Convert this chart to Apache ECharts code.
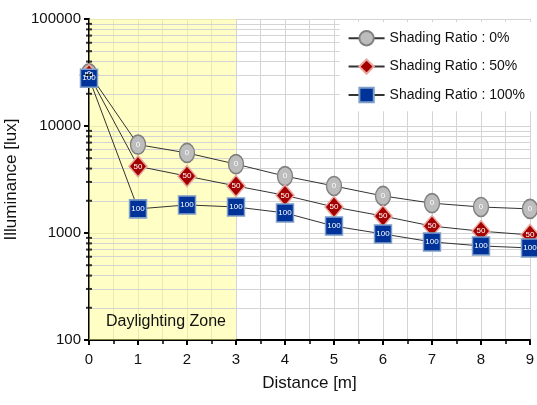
<!DOCTYPE html>
<html>
<head>
<meta charset="utf-8">
<script src="https://cdn.jsdelivr.net/npm/echarts@6/dist/echarts.min.js"></script>
<style>
  html, body { margin: 0; padding: 0; background: #fff; }
  #chart { width: 537px; height: 405px; }
</style>
</head>
<body>
<div id="chart"></div>
<script>
// distance along the room [m]
const distance = [0, 1, 2, 3, 4, 5, 6, 7, 8, 9];
// illuminance [lux] per shading ratio
const shading0 = [31000, 6700, 5600, 4400, 3400, 2750, 2220, 1900, 1750, 1680];
const shading50 = [30000, 4200, 3400, 2750, 2250, 1750, 1440, 1160, 1040, 960];
const shading100 = [28000, 1680, 1830, 1750, 1540, 1160, 980, 825, 757, 725];
const seriesNames = ['Shading Ratio : 0%', 'Shading Ratio : 50%', 'Shading Ratio : 100%'];
const markerTags = ['0', '50', '100'];
// log minor grid positions
const minorY = [200, 300, 400, 500, 600, 700, 800, 900,
  2000, 3000, 4000, 5000, 6000, 7000, 8000, 9000,
  20000, 30000, 40000, 50000, 60000, 70000, 80000, 90000];
const zoneStart = 0, zoneEnd = 3;

const font = '"Liberation Sans", Arial, sans-serif';
const pair = arr => distance.map((d, i) => [d, arr[i]]);

function lineSeries(name, data, symbol, size, fill, border, tag) {
  return {
    name, type: 'line', data: pair(data),
    symbol, symbolSize: size,
    lineStyle: { color: '#333', width: 1 },
    itemStyle: { color: fill, borderColor: border, borderWidth: 1.5 },
    label: {
      show: true, position: 'inside', formatter: tag,
      color: '#fff', fontSize: 8, fontFamily: font
    },
    z: 5
  };
}

const chart = echarts.init(document.getElementById('chart'));
chart.setOption({
  animation: false,
  backgroundColor: '#fff',
  grid: { left: 89, right: 7, top: 19, bottom: 65, outerBoundsMode: 'none' },
  legend: {
    orient: 'vertical', right: 6, top: 22, z: 20,
    backgroundColor: '#fff',
    padding: [8, 6, 8, 8],
    itemWidth: 36, itemHeight: 18, itemGap: 12,
    textStyle: { fontFamily: font, fontSize: 14, color: '#111' },
    data: seriesNames
  },
  xAxis: {
    type: 'value', min: 0, max: 9, interval: 1,
    name: 'Distance [m]', nameLocation: 'middle', nameGap: 35,
    nameTextStyle: { fontFamily: font, fontSize: 17, color: '#111' },
    axisLine: { onZero: false, lineStyle: { color: '#000', width: 2 } },
    axisTick: { length: 5, lineStyle: { color: '#000', width: 2 } },
    minorTick: { show: true, splitNumber: 2, length: 4, lineStyle: { color: '#000', width: 1.5 } },
    axisLabel: { fontFamily: font, fontSize: 15, color: '#111', margin: 12 },
    splitLine: { show: true, lineStyle: { color: '#d4d4d4', width: 1 } },
    minorSplitLine: { show: true, lineStyle: { color: '#d4d4d4', width: 1 } }
  },
  yAxis: {
    type: 'log', logBase: 10, min: 100, max: 100000,
    name: 'Illuminance [lux]', nameLocation: 'middle', nameGap: 58,
    nameTextStyle: { fontFamily: font, fontSize: 17, color: '#111' },
    axisLine: { show: true, lineStyle: { color: '#000', width: 2 } },
    axisTick: { length: 5, lineStyle: { color: '#000', width: 2 } },
    axisLabel: { fontFamily: font, fontSize: 15, color: '#111', margin: 8, formatter: v => String(Math.round(v)) },
    splitLine: { show: true, lineStyle: { color: '#d4d4d4', width: 1 } }
  },
  series: [
    {
      name: 'grid', type: 'scatter', silent: true,
      data: minorY.map(v => [zoneStart, v]),
      symbol: 'rect', symbolSize: [6, 2],
      itemStyle: { color: '#000' },
      z: 6,
      markLine: {
        silent: true, symbol: 'none', label: { show: false },
        lineStyle: { color: '#d4d4d4', type: 'solid', width: 1 },
        data: minorY.map(v => ({ yAxis: v }))
      },
      markArea: {
        silent: true,
        itemStyle: { color: 'rgba(255,255,140,0.5)' },
        data: [[{
          xAxis: zoneStart, name: 'Daylighting Zone',
          label: {
            show: true, position: 'insideBottomRight', distance: 10,
            fontFamily: font, fontSize: 16, color: '#111'
          }
        }, { xAxis: zoneEnd }]]
      }
    },
    lineSeries(seriesNames[0], shading0, 'circle', [15, 19], '#bdbdbd', '#808080', markerTags[0]),
    lineSeries(seriesNames[1], shading50, 'diamond', [18, 21], '#a50000', '#e8a8a0', markerTags[1]),
    lineSeries(seriesNames[2], shading100, 'rect', [17, 18], '#003399', '#7f9fc8', markerTags[2])
  ]
});
</script>
</body>
</html>
